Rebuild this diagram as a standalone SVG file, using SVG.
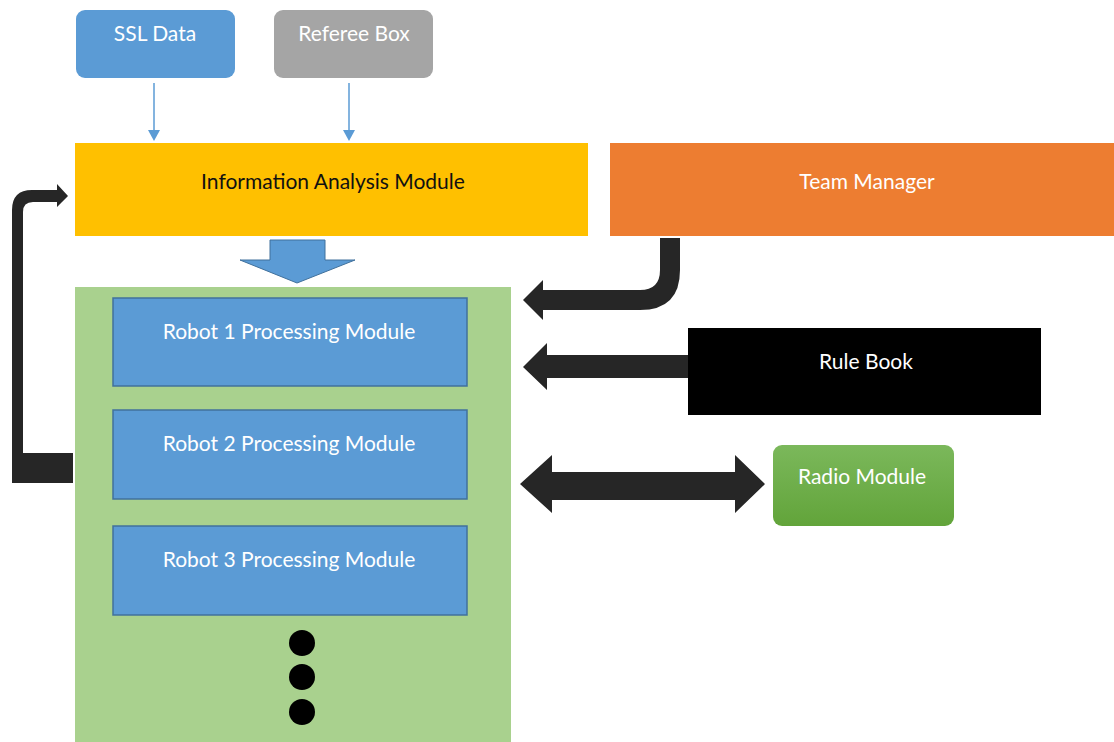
<svg xmlns="http://www.w3.org/2000/svg" width="1114" height="742" viewBox="0 0 1114 742">
<defs>
<linearGradient id="gRadio" x1="0" y1="0" x2="0" y2="1">
<stop offset="0" stop-color="#7BB85B"/>
<stop offset="1" stop-color="#62A43A"/>
</linearGradient>
</defs>
<style>
text{font-family:Lato,"Open Sans","Liberation Sans",sans-serif;font-size:21px;text-anchor:middle}
.w{fill:#FFFFFF}
.k{fill:#111111}
.robot{fill:#5B9BD5;stroke:#41719C;stroke-width:1.5}
.blk{fill:#262626}
.thin{stroke:#5B9BD5;stroke-width:1.5;fill:none}
.head{fill:#5B9BD5}
</style>
<rect width="1114" height="742" fill="#FFFFFF"/>
<g id="ssl"><rect x="76" y="10" width="159" height="68" rx="9" fill="#5B9BD5"/><text class="w" x="155" y="41">SSL Data</text></g>
<g id="referee"><rect x="274" y="10" width="159" height="68" rx="9" fill="#A5A5A5"/><text class="w" x="354" y="41">Referee Box</text></g>
<g id="info"><rect x="75" y="143" width="513" height="93" fill="#FFC000"/><text class="k" x="333" y="189">Information Analysis Module</text></g>
<g id="team"><rect x="610" y="143" width="504" height="93" fill="#ED7D31"/><text class="w" x="867" y="189">Team Manager</text></g>
<g id="container"><rect x="75" y="287" width="436" height="455" fill="#A9D18E"/></g>
<g id="robot1"><rect class="robot" x="113" y="298" width="354" height="88"/><text class="w" x="289" y="339">Robot 1 Processing Module</text></g>
<g id="robot2"><rect class="robot" x="113" y="410" width="354" height="89"/><text class="w" x="289" y="451">Robot 2 Processing Module</text></g>
<g id="robot3"><rect class="robot" x="113" y="526" width="354" height="89"/><text class="w" x="289" y="567">Robot 3 Processing Module</text></g>
<g id="dots"><circle cx="302" cy="643" r="13" fill="#000"/><circle cx="302" cy="677" r="13" fill="#000"/><circle cx="302" cy="712" r="13" fill="#000"/></g>
<g id="rulebook"><rect x="688" y="328" width="353" height="87" fill="#000000"/><text class="w" x="866" y="369">Rule Book</text></g>
<g id="radio"><rect x="773" y="445" width="181" height="81" rx="9" fill="url(#gRadio)"/><text class="w" x="862" y="484">Radio Module</text></g>
<g id="connectors">
<line class="thin" x1="154" y1="83" x2="154" y2="131"/>
<polygon class="head" points="148,130 160,130 154,141"/>
<line class="thin" x1="349" y1="83" x2="349" y2="131"/>
<polygon class="head" points="343,130 355,130 349,141"/>
<path d="M270,240 L325,240 L325,260 L355,260 L297,283 L240,260 L270,260 Z" fill="#5B9BD5" stroke="#41719C" stroke-width="1"/>
<path class="blk" d="M660,238 L680,238 L680,270 Q680,310 640,310 L543,310 L543,320 L523,300 L543,280 L543,290 L640,290 Q660,290 660,270 Z"/>
<path class="blk" d="M688,355 L547,355 L547,343 L523,367 L547,390 L547,378 L688,378 Z"/>
<path class="blk" d="M520,484 L552,455 L552,472 L735,472 L735,455 L765,484 L735,513 L735,500 L552,500 L552,513 Z"/>
<path class="blk" d="M73,453 L73,483 L12,483 L12,210 Q12,190 32,190 L57,190 L57,184 L68,196 L57,207 L57,202 L33,202 Q23,202 23,212 L23,453 Z"/>
</g>
</svg>
